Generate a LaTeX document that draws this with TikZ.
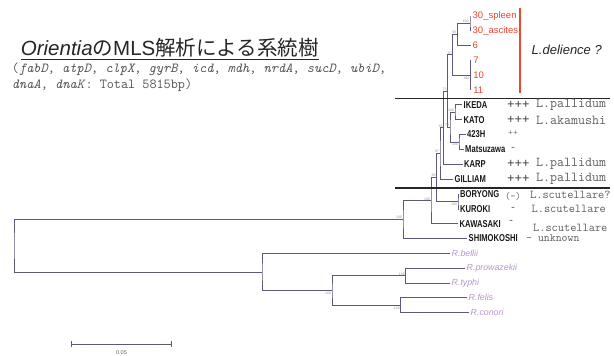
\documentclass[tikz,border=0pt]{standalone}
\usepackage{fontspec}
\setmainfont{Liberation Sans}
\newfontfamily\cjkfont{Noto Sans CJK JP}
\newfontfamily\plusfont{Liberation Mono}
\newfontfamily\condfont[FakeStretch=0.76]{Liberation Sans}
\usetikzlibrary{arrows.meta}
\definecolor{treec}{RGB}{95,88,125}
\definecolor{redc}{RGB}{232,72,48}
\definecolor{rickc}{RGB}{185,150,205}
\definecolor{annc}{RGB}{95,95,95}
\definecolor{subc}{RGB}{85,85,85}
\definecolor{bootc}{RGB}{150,150,150}
\begin{document}
\begin{tikzpicture}[x=1pt,y=-1pt,
  tree/.style={draw=treec, line width=0.8pt},
  redleaf/.style={anchor=west, inner sep=1.5pt, text=redc, font=\fontsize{9.5}{11}\selectfont},
  blackleaf/.style={anchor=west, inner sep=1.5pt, text=black!90, font=\condfont\bfseries\fontsize{10}{11}\selectfont},
  rleaf/.style={anchor=west, inner sep=1.5pt, text=rickc, font=\itshape\fontsize{8.8}{10}\selectfont},
  boot/.style={inner sep=0.3pt, text=bootc, font=\fontsize{3.5}{4}\selectfont},
  bootup/.style={boot, anchor=south east},
  bootdn/.style={boot, anchor=north east},
  plusmark/.style={anchor=west, inner sep=0, text=black!75, font=\plusfont\fontsize{12.5}{14}\selectfont},
  spec/.style={anchor=west, inner sep=0, text=annc, font=\ttfamily\fontsize{13.6}{15}\selectfont},
  specs/.style={anchor=west, inner sep=0, text=annc, font=\ttfamily\fontsize{12}{13}\selectfont},
  sepline/.style={draw=black!85, line width=1.3pt},
  redline/.style={draw=redc, line width=1.6pt}
]
\fill[white] (0,0) rectangle (614,356);
\useasboundingbox (0,0) rectangle (614,356);

% title
\node[anchor=base west, inner sep=0, text=black!85] (title) at (20.7,56)
  {\fontsize{20.5}{24}\selectfont\itshape Orientia\upshape\cjkfont の\normalfont MLS\cjkfont 解析による系統樹};
\draw[line width=1.2pt, black!85] ([yshift=-3.3pt]title.base west) -- ([yshift=-3.3pt]title.base east);
\node[anchor=west, inner sep=0, text=subc, font=\ttfamily\fontsize{13.8}{15}\selectfont] (sub1) at (11.7,69.3)
  {(\textit{fabD}, \textit{atpD}, \textit{clpX}, \textit{gyrB}, \textit{icd}, \textit{mdh}, \textit{nrdA}, \textit{sucD}, \textit{ubiD},};
\node[anchor=west, inner sep=0, text=subc, font=\ttfamily\fontsize{13.8}{15}\selectfont] (sub2) at (11.7,85)
  {\textit{dnaA}, \textit{dnaK}: Total 5815bp)};

% leaf ends
\coordinate (lsp) at (470,15.7);
\coordinate (las) at (470,30.55);
\coordinate (l6) at (471,45.4);
\coordinate (l7) at (470.7,60.25);
\coordinate (l10) at (470.7,75.1);
\coordinate (l11) at (470.7,89.95);
\coordinate (lik) at (462,104.8);
\coordinate (lka) at (462,119.65);
\coordinate (l423) at (465.5,134.5);
\coordinate (lmat) at (463.5,149.35);
\coordinate (lkarp) at (462.5,164.2);
\coordinate (lgil) at (453,179.05);
\coordinate (lbor) at (458.5,194.4);
\coordinate (lkur) at (458.5,209);
\coordinate (lkaw) at (458,223.6);
\coordinate (lshi) at (467,238.45);
\coordinate (lbel) at (450,253.3);
\coordinate (lpro) at (465,268.15);
\coordinate (ltyp) at (450,283);
\coordinate (lfel) at (467,297.85);
\coordinate (lcon) at (469,312.7);

% internal nodes
\coordinate (L1) at (470,23.1);
\coordinate (L2) at (457.3,34.3);
\coordinate (L3) at (470.7,75.1);
\coordinate (na) at (452.7,54.7);
\coordinate (IK) at (455,112.2);
\coordinate (HM) at (459,141.9);
\coordinate (nc) at (450,127.05);
\coordinate (nb) at (447.5,90.9);
\coordinate (nd) at (443.5,127.55);
\coordinate (ne) at (440,153.3);
\coordinate (BK) at (458,201.7);
\coordinate (nf) at (436.5,177.5);
\coordinate (N1) at (431,200.55);
\coordinate (OR) at (403,219.5);
\coordinate (PT) at (405.7,275.6);
\coordinate (FC) at (400.7,305.3);
\coordinate (R2) at (332,290.45);
\coordinate (R1) at (262,271.9);
\coordinate (root) at (14,245.7);

% branches
\draw[tree] (lsp) -| (L1) |- (las);
\draw[tree] (L1) -| (L2) |- (l6);
\draw[tree] (l7) -| (L3) |- (l11);
\draw[tree] (L2) -| (na) |- (L3);
\draw[tree] (lik) -| (IK) |- (lka);
\draw[tree] (l423) -| (HM) |- (lmat);
\draw[tree] (IK) -| (nc) |- (HM);
\draw[tree] (na) -| (nb) |- (nc);
\draw[tree] (nb) -| (nd) |- (lkarp);
\draw[tree] (nd) -| (ne) |- (lgil);
\draw[tree] (lbor) -| (BK) |- (lkur);
\draw[tree] (ne) -| (nf) |- (BK);
\draw[tree] (nf) -| (N1) |- (lkaw);
\draw[tree] (N1) -| (OR) |- (lshi);
\draw[tree] (lpro) -| (PT) |- (ltyp);
\draw[tree] (lfel) -| (FC) |- (lcon);
\draw[tree] (PT) -| (R2) |- (FC);
\draw[tree] (lbel) -| (R1) |- (R2);
\draw[tree] (OR) -| (root) |- (R1);

% bootstrap values
\node[bootup] (bL1) at ([xshift=-1pt]L1) {100};
\node[bootup] (bL2) at ([xshift=-0.5pt]L2) {98};
\node[bootdn] (bL3) at ([xshift=-1pt,yshift=-1pt]L3) {100};
\node[bootup] (bna) at ([xshift=-0.5pt]na) {97};
\node[bootup] (bIK) at ([xshift=-0.5pt]IK) {100};
\node[bootdn] (bHM) at ([xshift=-0.5pt,yshift=-1pt]HM) {100};
\node[bootup] (bnc) at ([xshift=-0.5pt]nc) {73};
\node[bootup] (bnb) at ([xshift=-0.5pt]nb) {73};
\node[bootup] (bnd) at ([xshift=-0.5pt]nd) {93};
\node[bootup] (bne) at ([xshift=-0.5pt]ne) {97};
\node[bootup] (bnf) at ([xshift=-0.5pt]nf) {99};
\node[bootdn] (bBK) at ([xshift=-0.5pt,yshift=-1pt]BK) {100};
\node[bootup] (bN1) at ([xshift=-0.5pt]N1) {100};
\node[bootup] (bOR) at ([xshift=-0.5pt]OR) {100};
\node[bootup] (bPT) at ([xshift=-0.5pt]PT) {100};
\node[bootdn] (bR2) at ([xshift=-0.5pt,yshift=-1pt]R2) {100};
\node[bootdn] (bFC) at ([xshift=-0.5pt,yshift=-1pt]FC) {100};

% red leaves
\node[redleaf] (tsp) at ([xshift=1pt]lsp) {30\_spleen};
\node[redleaf] (tas) at ([xshift=1pt]las) {30\_ascites};
\node[redleaf] (t6) at (l6) {6};
\node[redleaf] (t7) at ([xshift=1pt]l7) {7};
\node[redleaf] (t10) at ([xshift=1pt]l10) {10};
\node[redleaf] (t11) at ([xshift=1pt]l11) {11};
\coordinate (rtop) at (520,8.3);
\coordinate (rbot) at (520,93.3);
\draw[redline] (rtop) -- (rbot);
\node[anchor=west, inner sep=0, font=\itshape\fontsize{13}{15}\selectfont, text=black!85] (ldel) at (531.5,50) {L.delience ?};

% separator lines
\coordinate (s1a) at (395,98.5);
\coordinate (s1b) at (610,98.5);
\coordinate (s2a) at (395,188);
\coordinate (s2b) at (610,188);
\draw[sepline] (s1a) -- (s1b);
\draw[sepline] (s2a) -- (s2b);

% black leaves
\node[blackleaf] (tik) at (lik) {IKEDA};
\node[blackleaf] (tka) at (lka) {KATO};
\node[blackleaf] (t423) at (l423) {423H};
\node[blackleaf] (tmat) at (lmat) {Matsuzawa};
\node[blackleaf] (tkarp) at (lkarp) {KARP};
\node[blackleaf] (tgil) at (lgil) {GILLIAM};
\node[blackleaf] (tbor) at (lbor) {BORYONG};
\node[blackleaf] (tkur) at (lkur) {KUROKI};
\node[blackleaf] (tkaw) at (lkaw) {KAWASAKI};
\node[blackleaf] (tshi) at (lshi) {SHIMOKOSHI};

% annotations
\node[plusmark] (pik) at (507,104.8) {+++};
\node[spec] (sik) at (536,104.8) {L.pallidum};
\node[plusmark] (pka) at (507,119.65) {+++};
\node[spec] (ska) at (536,120.5) {L.akamushi};
\node[plusmark, text=black!55, font=\plusfont\fontsize{8}{9}\selectfont] (p423) at (508,133.5) {++};
\node[plusmark, text=black!70, font=\plusfont\fontsize{10}{11}\selectfont] (pmat) at (510,149.35) {-};
\node[plusmark] (pkarp) at (507,164.2) {+++};
\node[spec] (skarp) at (536,164.2) {L.pallidum};
\node[plusmark] (pgil) at (507,179.05) {+++};
\node[spec] (sgil) at (536,179.05) {L.pallidum};
\node[plusmark, text=annc, font=\ttfamily\fontsize{10}{11}\selectfont] (pbor) at (505,196) {(-)};
\node[specs] (sbor) at (530,194.4) {L.scutellare?};
\node[plusmark, text=black!70, font=\plusfont\fontsize{10}{11}\selectfont] (pkur) at (510,209) {-};
\node[specs] (skur) at (531.5,208.5) {L.scutellare};
\node[plusmark, text=black!70, font=\plusfont\fontsize{10}{11}\selectfont] (pkaw) at (508,221.5) {-};
\node[specs] (skaw) at (533,228) {L.scutellare};
\node[specs, font=\ttfamily\fontsize{11.5}{12}\selectfont] (sshi) at (526,238.45) {- unknown};

% Rickettsia leaves
\node[rleaf] (tbel) at (lbel) {R.bellii};
\node[rleaf] (tpro) at (lpro) {R.prowazekii};
\node[rleaf] (ttyp) at (ltyp) {R.typhi};
\node[rleaf] (tfel) at (lfel) {R.felis};
\node[rleaf] (tcon) at (lcon) {R.conori};

% scale bar
\coordinate (sbl) at (70.7,344);
\coordinate (sbr) at (171.7,344);
\draw[tree, {Bar[width=6pt]}-{Bar[width=6pt]}] (sbl) -- (sbr);
\node[inner sep=0, text=black!60, font=\fontsize{5.5}{6}\selectfont] (sblab) at (121.5,352.3) {0.05};
\end{tikzpicture}
\end{document}
